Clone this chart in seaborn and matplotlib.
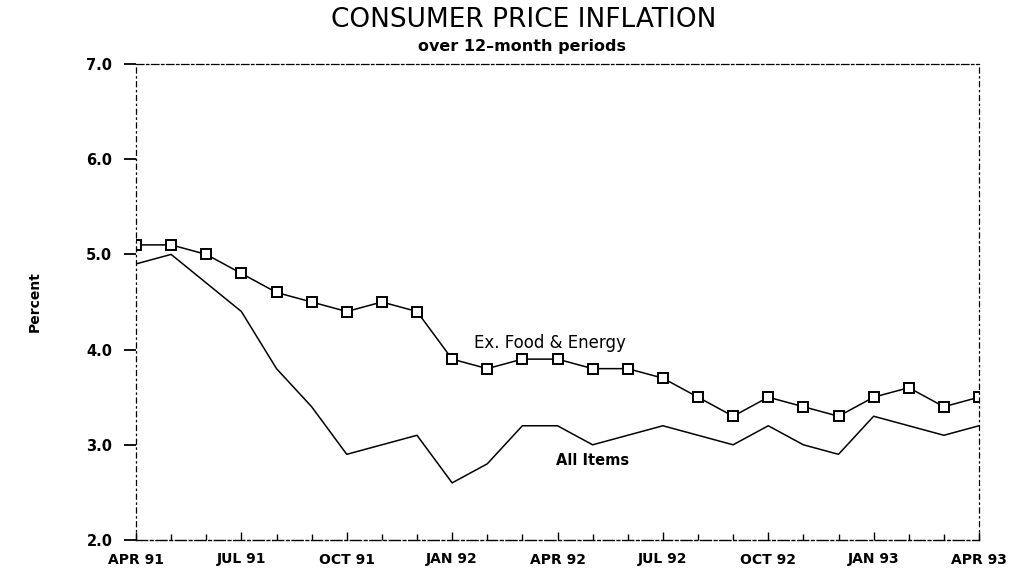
import matplotlib
matplotlib.use("Agg")
import matplotlib.pyplot as plt
import seaborn as sns
import pandas as pd
import numpy as np

months = ["APR 91", "MAY 91", "JUN 91", "JUL 91", "AUG 91", "SEP 91", "OCT 91", "NOV 91", "DEC 91",
          "JAN 92", "FEB 92", "MAR 92", "APR 92", "MAY 92", "JUN 92", "JUL 92", "AUG 92", "SEP 92",
          "OCT 92", "NOV 92", "DEC 92", "JAN 93", "FEB 93", "MAR 93", "APR 93"]
ex_food_energy = [5.1, 5.1, 5.0, 4.8, 4.6, 4.5, 4.4, 4.5, 4.4,
                  3.9, 3.8, 3.9, 3.9, 3.8, 3.8, 3.7, 3.5, 3.3,
                  3.5, 3.4, 3.3, 3.5, 3.6, 3.4, 3.5]
all_items = [4.9, 5.0, 4.7, 4.4, 3.8, 3.4, 2.9, 3.0, 3.1,
             2.6, 2.8, 3.2, 3.2, 3.0, 3.1, 3.2, 3.1, 3.0,
             3.2, 3.0, 2.9, 3.3, 3.2, 3.1, 3.2]
tick_labels = ["APR 91", "JUL 91", "OCT 91", "JAN 92", "APR 92", "JUL 92", "OCT 92", "JAN 93", "APR 93"]
yticks = [2.0, 3.0, 4.0, 5.0, 6.0, 7.0]

df = pd.DataFrame({"idx": np.arange(len(months)), "month": months,
                   "ex": ex_food_energy, "all": all_items})

sns.set_theme(style="ticks")
plt.rcParams['font.family'] = ['DejaVu Sans']
plt.rcParams['text.color'] = 'black'
plt.rcParams['xtick.color'] = 'black'
plt.rcParams['ytick.color'] = 'black'
plt.rcParams['axes.labelcolor'] = 'black'

fig = plt.figure(figsize=(10.17, 5.75), dpi=100)
ax = fig.add_axes([136/1017, 1 - 540/575, (979-136)/1017, (540-64)/575])

sns.lineplot(data=df, x="idx", y="all", ax=ax, color="black", linewidth=1.1)
sns.lineplot(data=df, x="idx", y="ex", ax=ax, color="black", linewidth=1.1,
             marker="s", markersize=6.5, markerfacecolor="white",
             markeredgecolor="black", markeredgewidth=1.4)

ax.set_xlim(0, len(months) - 1)
ax.set_ylim(2.0, 7.0)
ax.set_yticks(yticks)
ax.set_yticklabels([f"{v:.1f}" for v in yticks], fontsize=10.5, fontweight="bold")
major = [months.index(m) for m in tick_labels]
ax.set_xticks(major)
ax.set_xticklabels(tick_labels, fontsize=10, fontweight="bold")
ax.set_xticks(np.arange(len(months)), minor=True)
ax.tick_params(axis="y", left=True, direction="out", length=9, width=1.3, pad=8)
ax.tick_params(axis="x", which="both", bottom=True, direction="in", length=6, width=1.0, pad=9)
ax.tick_params(axis="x", which="minor", length=4)

for side in ["left", "right", "top", "bottom"]:
    ax.spines[side].set_visible(True)
    ax.spines[side].set_color("black")
ax.spines["left"].set_linestyle((0, (4, 3, 1, 3)))
ax.spines["left"].set_linewidth(0.9)
ax.spines["right"].set_linestyle((0, (4, 3, 1, 3)))
ax.spines["right"].set_linewidth(0.9)
ax.spines["top"].set_linestyle((0, (6, 2, 2, 2)))
ax.spines["top"].set_linewidth(0.9)
ax.spines["bottom"].set_linestyle((0, (8, 2, 2, 2)))
ax.spines["bottom"].set_linewidth(1.0)

ax.set_xlabel("")
ax.set_ylabel("Percent", fontsize=10, fontweight="bold", labelpad=32)

ax.text(9.62, 4.07, "Ex. Food & Energy", fontsize=12, ha="left", va="center")
ax.text(11.96, 2.84, "All Items", fontsize=10.5, fontweight="bold", ha="left", va="center")

fig.text(524/1017, 1 - 20/575, "CONSUMER PRICE INFLATION", ha="center", va="center",
         fontsize=19, fontweight="normal")
fig.text(522/1017, 1 - 46/575, "over 12\u2013month periods", ha="center", va="center",
         fontsize=11.5, fontweight="bold")

fig.savefig("out.png", dpi=100, facecolor="white")
